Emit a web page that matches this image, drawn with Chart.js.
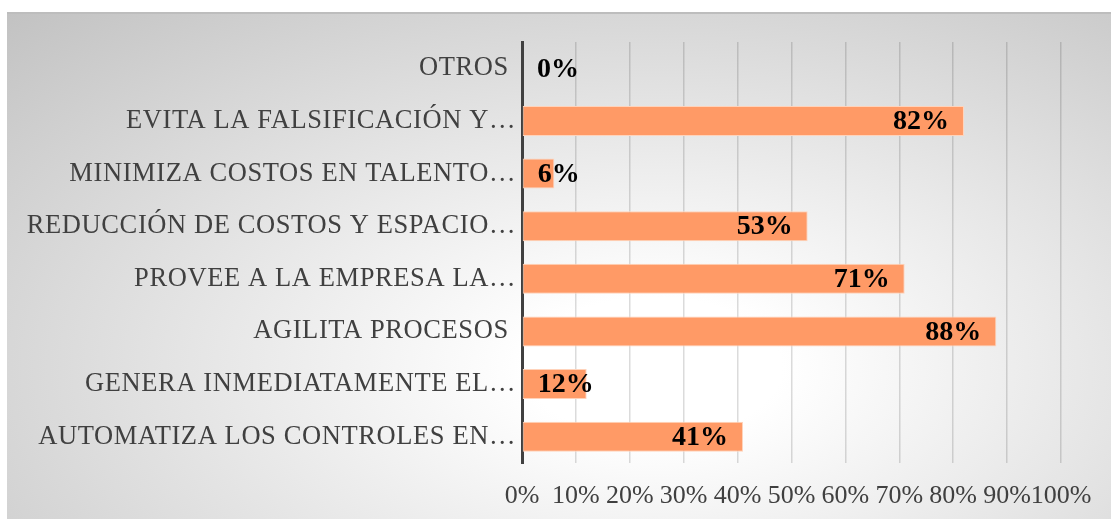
<!DOCTYPE html>
<html>
<head>
<meta charset="utf-8">
<script src="https://cdn.jsdelivr.net/npm/chart.js@4"></script>
<style>
  html, body { margin: 0; padding: 0; background: #ffffff; overflow: hidden; }
  #chart-box {
    position: absolute;
    left: 7px;
    top: 12px;
    width: 1115px;
    height: 505px;
    border-top: 2px solid #bdbdbd;
    background: radial-gradient(ellipse farthest-corner at 58% 70%, #ffffff 0%, #ffffff 14%, #c2c2c2 100%);
  }
</style>
</head>
<body>
<div id="chart-box"><canvas id="benefitsChart"></canvas></div>
<script>
// categories, top to bottom as in the picture
const categories = [
  'OTROS ',
  'EVITA LA FALSIFICACIÓN Y…',
  'MINIMIZA COSTOS EN TALENTO…',
  'REDUCCIÓN DE COSTOS Y ESPACIO…',
  'PROVEE A LA EMPRESA LA…',
  'AGILITA PROCESOS ',
  'GENERA INMEDIATAMENTE EL…',
  'AUTOMATIZA LOS CONTROLES EN…'
];
const percentages = [0, 82, 6, 53, 71, 88, 12, 41];
const tickLabels = ['0%', '10%', '20%', '30%', '40%', '50%', '60%', '70%', '80%', '90%', '100%'];

document.addEventListener('DOMContentLoaded', function() {
  const serif = '"Liberation Serif", "Times New Roman", serif';

  // value labels: inside the end of the bar, pushed right of the axis when the bar is short
  const valueLabels = {
    id: 'valueLabels',
    afterDatasetsDraw(chart) {
      const ctx = chart.ctx;
      const meta = chart.getDatasetMeta(0);
      ctx.save();
      ctx.font = 'bold 28px ' + serif;
      ctx.fillStyle = '#000000';
      ctx.textBaseline = 'middle';
      ctx.textAlign = 'left';
      meta.data.forEach((bar, i) => {
        const text = percentages[i] + '%';
        const w = ctx.measureText(text).width;
        let x = bar.x - 15 - w;
        if (x < bar.base + 15) x = bar.base + 15;
        ctx.fillText(text, x, bar.y + 1);
      });
      ctx.restore();
    }
  };

  // category labels are a little wider spaced than the font
  const spacedCategoryLabels = {
    id: 'spacedCategoryLabels',
    afterLayout(chart) {
      const y = chart.scales.y;
      if (y && !y._spaced) {
        const original = y.drawLabels;
        y.drawLabels = function(area) {
          this.ctx.save();
          this.ctx.letterSpacing = '0.6px';
          original.call(this, area);
          this.ctx.restore();
        };
        y._spaced = true;
      }
    }
  };

  new Chart(document.getElementById('benefitsChart'), {
    type: 'bar',
    data: {
      labels: categories,
      datasets: [{
        data: percentages,
        backgroundColor: '#ff9a66',
        borderColor: '#ffd3bb',
        borderWidth: 1,
        borderSkipped: false,
        barPercentage: 0.57,
        categoryPercentage: 1
      }]
    },
    options: {
      indexAxis: 'y',
      responsive: true,
      maintainAspectRatio: false,
      animation: false,
      layout: { padding: { top: 28, right: 61, left: 0, bottom: 0 } },
      plugins: {
        legend: { display: false },
        tooltip: { enabled: false }
      },
      scales: {
        x: {
          min: 0,
          max: 100,
          afterFit: (scale) => { scale.height = 56; },
          grid: { color: 'rgba(0,0,0,0.14)', lineWidth: 1.5, drawTicks: false },
          border: { display: false },
          ticks: {
            stepSize: 10,
            padding: 18,
            color: '#404040',
            font: { family: serif, size: 26 },
            maxRotation: 0,
            autoSkip: false,
            callback: (value, index) => tickLabels[index]
          }
        },
        y: {
          afterFit: (scale) => { scale.width = 515; },
          grid: { display: false, drawTicks: false },
          border: { display: true, color: '#404040', width: 3 },
          ticks: {
            padding: 6,
            color: '#404040',
            font: { family: serif, size: 26.5 },
            autoSkip: false
          }
        }
      }
    },
    plugins: [valueLabels, spacedCategoryLabels]
  });
});
</script>
</body>
</html>
